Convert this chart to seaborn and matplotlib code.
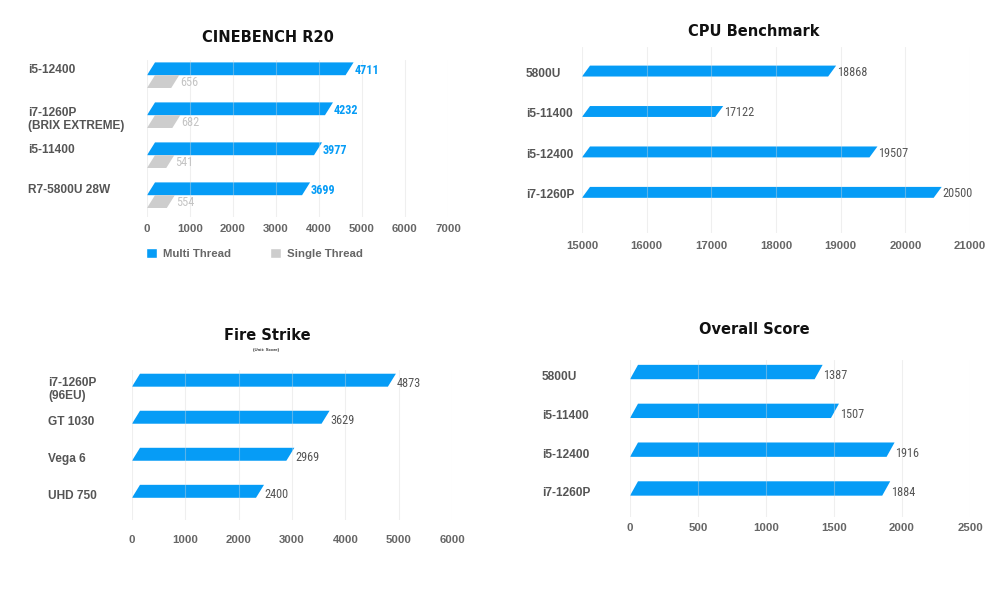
import pandas as pd
import seaborn as sns
import matplotlib.pyplot as plt
from matplotlib.patches import Polygon, Patch
from matplotlib.transforms import ScaledTranslation

# Chart data
cine_cpus = ["i5-12400", "i7-1260P\n(BRIX EXTREME)", "i5-11400", "R7-5800U 28W"]
cine_multi = [4711, 4232, 3977, 3699]
cine_single = [656, 682, 541, 554]
cine_ticks = [0, 1000, 2000, 3000, 4000, 5000, 6000, 7000]

cpu_names = ["5800U", "i5-11400", "i5-12400", "i7-1260P"]
cpu_scores = [18868, 17122, 19507, 20500]
cpu_ticks = [15000, 16000, 17000, 18000, 19000, 20000, 21000]

fire_gpus = ["i7-1260P\n(96EU)", "GT 1030", "Vega 6", "UHD 750"]
fire_scores = [4873, 3629, 2969, 2400]
fire_ticks = [0, 1000, 2000, 3000, 4000, 5000, 6000]

overall_names = ["5800U", "i5-11400", "i5-12400", "i7-1260P"]
overall_scores = [1387, 1507, 1916, 1884]
overall_ticks = [0, 500, 1000, 1500, 2000, 2500]

BLUE = "#069CF6"
GREY = "#CDCDCD"
LABEL = "#555555"
TICK = "#666666"
NARROW = ["Roboto Condensed", "Liberation Sans Narrow", "Liberation Sans"]

sns.set_theme(style="white")
plt.rcParams["font.family"] = ["Liberation Sans", "DejaVu Sans"]

fig = plt.figure(figsize=(10, 6), dpi=100)


def px_to_data(ax, px):
    x0, x1 = ax.get_xlim()
    width_px = ax.get_position().width * fig.get_figwidth() * fig.dpi
    return px * (x1 - x0) / width_px


def slant_bars(ax, skew_px=8):
    """Turn the seaborn rectangles into slanted bars."""
    s = px_to_data(ax, skew_px)
    xmin = ax.get_xlim()[0]
    bars = []
    for p in list(ax.patches):
        left = max(p.get_x(), xmin)
        right = p.get_x() + p.get_width()
        top = p.get_y()
        bottom = p.get_y() + p.get_height()
        color = p.get_facecolor()
        p.remove()
        poly = Polygon([(left, bottom), (left + s, top), (right + s / 2, top), (right - s / 2, bottom)],
                       closed=True, facecolor=color, edgecolor="none", zorder=1)
        ax.add_patch(poly)
        bars.append((right, right + s / 2, (top + bottom) / 2, color))
    return bars


def style_axes(ax, ticks, xlim, ylim, ypad, xpad, single_dy, multi_dy):
    ax.set_xlim(xlim)
    ax.set_ylim(ylim)
    ax.set_xticks(ticks)
    ax.set_xticklabels([str(t) for t in ticks])
    ax.set_xlabel("")
    ax.set_ylabel("")
    sns.despine(ax=ax, left=True, bottom=True)
    ax.set_axisbelow(False)
    ax.grid(axis="x", color="#d8d8d8", lw=0.8, alpha=0.4)
    ax.grid(axis="y", visible=False)
    ax.tick_params(axis="both", length=0)
    ax.tick_params(axis="x", pad=xpad, labelsize=8.2, labelcolor=TICK)
    ax.tick_params(axis="y", pad=ypad, labelsize=8.6, labelcolor=LABEL)
    for lab in ax.get_xticklabels():
        lab.set_fontweight("bold")
    for lab in ax.get_yticklabels():
        lab.set_fontweight("bold")
        lab.set_horizontalalignment("left")
        lab.set_linespacing(1.1)
        dy = multi_dy if "\n" in lab.get_text() else single_dy
        lab.set_transform(lab.get_transform() + ScaledTranslation(0, -dy / 72, fig.dpi_scale_trans))


def value_labels(ax, bars, colors=None, weight="normal", dy=-1.5):
    for value, tip, yc, fc in bars:
        col = LABEL
        w = "normal"
        if colors is not None:
            is_blue = fc[2] > 0.8 and fc[0] < 0.3
            col = colors[0] if is_blue else colors[1]
            w = weight if is_blue else "normal"
        ax.annotate(f"{int(round(value))}", (tip, yc), xytext=(0.6, dy), textcoords="offset points",
                    ha="left", va="center", fontsize=8.8, color=col, fontweight=w, family=NARROW)


# CINEBENCH R20
ax1 = fig.add_axes([0.147, 0.638, 0.301, 0.262])
cine_df = pd.DataFrame({
    "cpu": cine_cpus * 2,
    "score": cine_multi + cine_single,
    "thread": ["Multi Thread"] * len(cine_cpus) + ["Single Thread"] * len(cine_cpus),
})
sns.barplot(data=cine_df, x="score", y="cpu", hue="thread", orient="h", palette=[BLUE, GREY],
            width=0.64, dodge=True, legend=False, saturation=1, ax=ax1)
style_axes(ax1, cine_ticks, (0, 7000), (3.55, -0.38), 85.5, 5, -4.5, 1.5)
bars = slant_bars(ax1)
value_labels(ax1, bars, colors=(BLUE, "#C4C4C4"), weight="bold", dy=-1.0)
ax1.legend([Patch(facecolor=BLUE), Patch(facecolor=GREY)], ["Multi Thread", "Single Thread"],
           loc="center left", bbox_to_anchor=(-0.003, -0.229), ncol=2, frameon=False,
           handlelength=1.0, handleheight=1.05, handletextpad=0.5, columnspacing=3.4,
           borderpad=0, borderaxespad=0, labelcolor=TICK, prop=dict(weight="bold", size=8.2))

# CPU Benchmark
ax2 = fig.add_axes([0.582, 0.612, 0.388, 0.31])
sns.barplot(x=cpu_scores, y=cpu_names, orient="h", color=BLUE, width=0.27, saturation=1, ax=ax2)
style_axes(ax2, cpu_ticks, (15000, 21000), (4.0, -0.6), 40.3, 6, 1, 1)
bars = slant_bars(ax2)
value_labels(ax2, bars, dy=-0.8)

# Fire Strike
ax3 = fig.add_axes([0.132, 0.133, 0.32, 0.25])
sns.barplot(x=fire_scores, y=fire_gpus, orient="h", color=BLUE, width=0.35, saturation=1, ax=ax3)
style_axes(ax3, fire_ticks, (0, 6000), (3.78, -0.27), 60.5, 11, 2.5, 5.5)
bars = slant_bars(ax3)
value_labels(ax3, bars, dy=-2.5)

# Overall Score
ax4 = fig.add_axes([0.63, 0.138, 0.34, 0.262])
sns.barplot(x=overall_scores, y=overall_names, orient="h", color=BLUE, width=0.37, saturation=1, ax=ax4)
style_axes(ax4, overall_ticks, (0, 2500), (3.74, -0.31), 63.4, 4.5, 2.5, 2.5)
bars = slant_bars(ax4)
value_labels(ax4, bars, dy=-2.8)

# Titles
title_kw = dict(ha="center", va="center", fontsize=10.5, fontweight="bold", color="#111111", family="DejaVu Sans")
fig.text(0.268, 1 - 38 / 600, "CINEBENCH R20", **title_kw)
fig.text(0.754, 1 - 32 / 600, "CPU Benchmark", **title_kw)
fig.text(0.2675, 1 - 335 / 600, "Fire Strike", **title_kw)
fig.text(0.266, 1 - 350 / 600, "(Unit: Score)", ha="center", va="center", fontsize=3.2,
         fontweight="bold", color="#333333")
fig.text(0.754, 1 - 330 / 600, "Overall Score", **title_kw)

fig.savefig("out.png", dpi=100, facecolor="white")
